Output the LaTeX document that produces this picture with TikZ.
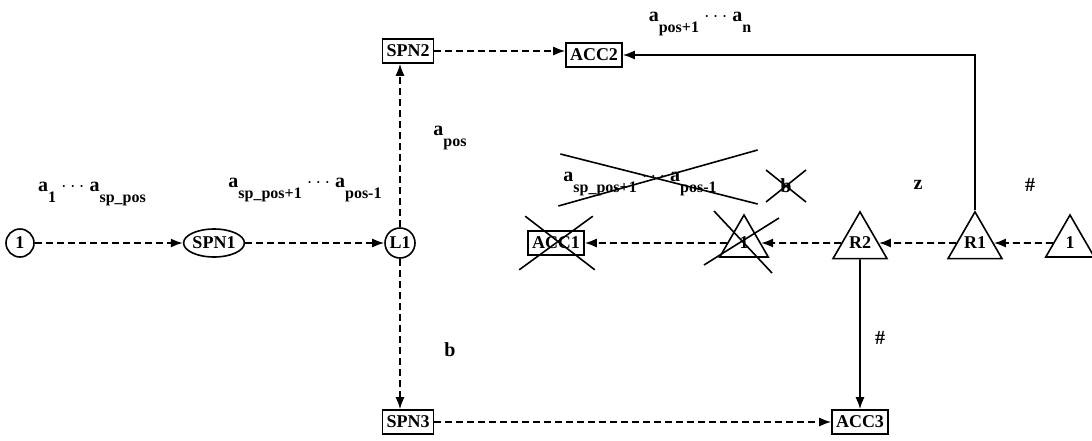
\documentclass[tikz,border=0pt]{standalone}
\usepackage{fontspec}
\setmainfont{Liberation Serif}
\usetikzlibrary{shapes.geometric,arrows.meta,calc}
\newcommand{\ap}[1]{a\raisebox{-1.2ex}{\footnotesize\bfseries #1}}

\begin{document}
\begin{tikzpicture}[x=0.5pt,y=-0.5pt,
  stato/.style={draw,thick,font=\bfseries\small,inner sep=2pt},
  scatola/.style={stato,rectangle,minimum height=12pt},
  tondo/.style={stato,circle,inner sep=0pt,minimum size=14pt},
  ovale/.style={stato,ellipse,inner sep=0pt,minimum width=27pt,minimum height=14pt},
  triang/.style={stato,regular polygon,regular polygon sides=3,inner sep=0pt,minimum size=28pt},
  freccia/.style={-{Latex[length=6pt,width=4.5pt]},thick},
  tratt/.style={freccia,dash pattern=on 3.5pt off 2pt},
  etich/.style={font=\bfseries},
  croce/.style={thick}]
  \useasboundingbox (0,0) rectangle (1092,440);
  % Stati
  \node[tondo] (q0) at (20,243) {1};
  \node[ovale] (spn1) at (214,243) {SPN1};
  \node[tondo,minimum size=15pt] (l1) at (400,243) {L1};
  \node[scatola] (spn2) at (408,51) {SPN2};
  \node[scatola] (acc2) at (594,55) {ACC2};
  \node[scatola] (spn3) at (408,422) {SPN3};
  \node[scatola] (acc3) at (860,422) {ACC3};
  \node[scatola] (acc1) at (556,243) {ACC1};
  \node[triang] (t1) at (744,243) {1};
  \node[triang] (r2) at (860,243) {R2};
  \node[triang] (r1) at (975,243) {R1};
  \node[triang] (t0) at (1070,243) {1};
  % Archi
  \draw[tratt] (q0) -- (spn1);
  \draw[tratt] (spn1) -- (l1);
  \draw[tratt] (l1) -- (l1 |- spn2.south);
  \draw[tratt] (l1) -- (l1 |- spn3.north);
  \draw[tratt] (spn2) -- (spn2 -| acc2.west);
  \draw[tratt] (spn3) -- (acc3);
  \draw[tratt] (t0) -- (r1);
  \draw[tratt] (r1) -- (r2);
  \draw[tratt] (r2) -- (t1);
  \draw[tratt] (t1) -- (acc1);
  \draw[freccia] (r2.south) -- (acc3);
  \draw[freccia] (r1.north) |- (acc2);
  % Etichette
  \node[etich] (e1) at (92,194) {\ap{1} $\cdots$ \ap{sp\_pos}};
  \node[etich] (e2) at (305,190) {\ap{sp\_pos+1} $\cdots$ \ap{pos-1}};
  \node[etich] (e3) at (450,138) {\ap{pos}};
  \node[etich] (e4) at (640,184) {\ap{sp\_pos+1} $\cdots$ \ap{pos-1}};
  \node[etich] (e5) at (700,24) {\ap{pos+1} $\cdots$ \ap{n}};
  \node[etich] (e6) at (450,350) {b};
  \node[etich] (e7) at (786,186) {b};
  \node[etich] (e8) at (918,185) {z};
  \node[etich] (e9) at (1030,185) {\#};
  \node[etich] (e10) at (880,338) {\#};
  % Cancellature
  \draw[croce] ($(e4.west)+(4,-30)$) -- ($(e4.east)+(34,20)$);
  \draw[croce] ($(e4.west)+(2,22)$) -- ($(e4.east)+(34,-34)$);
  \draw[croce] ($(acc1.south west)+(-8,14)$) -- ($(acc1.north east)+(8,-14)$);
  \draw[croce] ($(acc1.north west)+(-2,-14)$) -- ($(acc1.south east)+(10,14)$);
  \draw[croce] ($(t1)+(-30,-32)$) -- ($(t1)+(28,30)$);
  \draw[croce] ($(t1)+(-40,22)$) -- ($(t1)+(35,-25)$);
  \draw[croce] ($(e7)+(-20,-16)$) -- ($(e7)+(20,16)$);
  \draw[croce] ($(e7)+(-20,16)$) -- ($(e7)+(20,-16)$);
\end{tikzpicture}
\end{document}
